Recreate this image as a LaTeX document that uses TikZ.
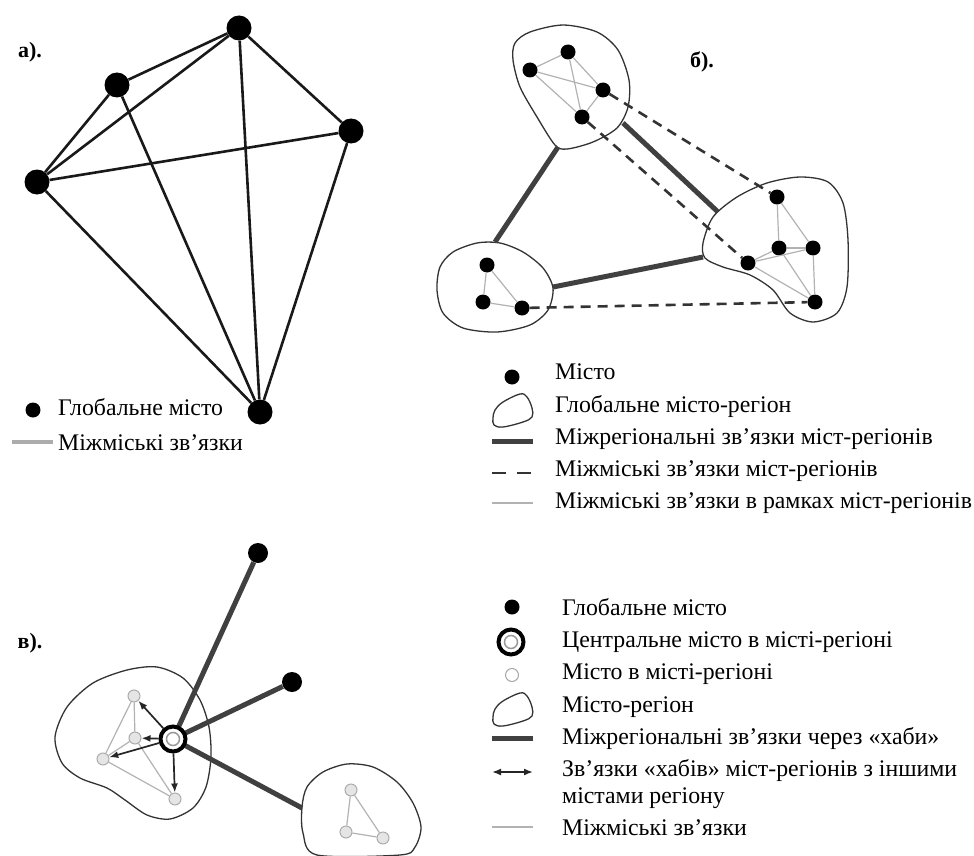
\documentclass[tikz,border=0pt]{standalone}
\usepackage{fontspec}
\setmainfont{Liberation Serif}
\usetikzlibrary{arrows.meta}
\usetikzlibrary{positioning}

\tikzset{
  bigcity/.style  = {circle, fill=black, inner sep=0pt, minimum size=25pt},
  city/.style     = {circle, fill=black, inner sep=0pt, minimum size=15pt},
  gcity/.style    = {circle, fill=black, inner sep=0pt, minimum size=20pt},
  rcity/.style    = {circle, fill=gray!20, draw=gray!65, line width=1pt, inner sep=0pt, minimum size=12pt},
  hub/.style      = {circle, draw=black, line width=4pt, fill=white, inner sep=0pt, minimum size=25pt,
                     path picture={\draw[gray!80, line width=1.5pt] (path picture bounding box.center) circle (6.5pt);}},
  link/.style     = {black!90, line width=2.6pt},
  inter/.style    = {black!75, line width=5pt},
  intra/.style    = {gray!60, line width=1.2pt},
  citylink/.style = {black!80, line width=2.6pt, dash pattern=on 10pt off 7pt},
  region/.style   = {black!80, line width=1.3pt},
  hubarrow/.style = {black!85, line width=1.7pt, -{Latex[length=9pt,width=7pt]}},
  legtext/.style  = {anchor=base west, inner sep=0pt, font=\fontsize{23.8}{26}\selectfont},
  panel/.style    = {anchor=center, inner sep=0pt, font=\fontsize{22}{26}\selectfont\bfseries},
}

\begin{document}
\begin{tikzpicture}[x=1pt,y=-1pt]
  \useasboundingbox (0,0) rectangle (974,856);

  % Panel a
  \node[panel] (la) at (30,52) {а).};
  \node[bigcity] (aT) at (239,28)  {};
  \node[bigcity] (aU) at (117,85)  {};
  \node[bigcity] (aR) at (351,131) {};
  \node[bigcity] (aL) at (37,182)  {};
  \node[bigcity] (aB) at (260,412) {};
  \draw[link] (aT) -- (aU);
  \draw[link] (aT) -- (aL);
  \draw[link] (aT) -- (aR);
  \draw[link] (aT) -- (aB);
  \draw[link] (aU) -- (aL);
  \draw[link] (aU) -- (aB);
  \draw[link] (aL) -- (aR);
  \draw[link] (aL) -- (aB);
  \draw[link] (aR) -- (aB);

  % Legend a
  \node[city] (laDot) at (33,410) {};
  \node[legtext] (laT1) at (58,415) {Глобальне місто};
  \coordinate (laL1) at (12,442);
  \coordinate (laL2) at (53,442);
  \draw[gray!65, line width=4pt] (laL1) -- (laL2);
  \node[legtext] (laT2) at (58,450) {Міжміські зв’язки};

  % Panel b: regions
  \node[panel] (lb) at (702,62) {б).};
  \draw[region] plot[smooth cycle] coordinates {(515,43) (530,32) (563,25) (597,32) (618,50) (629,80)
    (628,107) (617,128) (593,142) (567,149) (555,145) (537,117) (520,87) (513,60)};
  \draw[region] plot[smooth cycle] coordinates {(440,267) (453,252) (477,243) (500,243) (523,252)
    (543,268) (553,288) (548,310) (530,325) (497,332) (463,328) (443,313) (437,290)};
  \draw[region] plot[smooth cycle] coordinates {(703,243) (713,217) (737,197) (767,183) (800,177)
    (828,182) (843,203) (848,240) (847,287) (837,313) (813,322) (790,313) (773,290) (750,275)
    (723,267) (705,258)};

  % Panel b: cities
  \node[city] (bA) at (568,52)  {};
  \node[city] (bB) at (530,70)  {};
  \node[city] (bC) at (603,90)  {};
  \node[city] (bD) at (582,117) {};
  \node[city] (bE) at (487,265) {};
  \node[city] (bF) at (483,302) {};
  \node[city] (bG) at (522,308) {};
  \node[city] (bH) at (777,197) {};
  \node[city] (bI) at (779,248) {};
  \node[city] (bJ) at (813,248) {};
  \node[city] (bK) at (748,263) {};
  \node[city] (bL) at (815,302) {};

  % Panel b: links
  \foreach \u/\v in {bB/bA, bA/bC, bB/bC, bB/bD, bA/bD, bC/bD, bE/bF, bF/bG, bE/bG,
                     bH/bI, bH/bJ, bI/bJ, bK/bI, bK/bJ, bK/bL, bI/bL, bJ/bL}
    \draw[intra] (\u) -- (\v);
  \coordinate (bTop1) at (558,147);
  \coordinate (bLft1) at (495,242);
  \coordinate (bLft2) at (553,287);
  \coordinate (bRgt1) at (703,257);
  \coordinate (bTop2) at (623,123);
  \coordinate (bRgt2) at (718,212);
  \draw[inter] (bTop1) -- (bLft1);
  \draw[inter] (bLft2) -- (bRgt1);
  \draw[inter] (bTop2) -- (bRgt2);
  \draw[citylink] (bC) -- (bH);
  \draw[citylink] (bD) -- (bK);
  \draw[citylink] (bG) -- (bL);

  % Legend b
  \node[city] (lbDot) at (512,377) {};
  \node[legtext] (lbT1) at (555,379) {Місто};
  \draw[region, shift={(512,410)}] plot[smooth cycle, tension=0.6] coordinates {(-19,8) (-17,0) (-9,-8)
    (8,-16) (15,-13) (20,-2) (20,7) (11,12) (-9,17) (-18,15)};
  \node[legtext] (lbT2) at (555,412) {Глобальне місто-регіон};
  \coordinate (lbA1) at (492,441);
  \coordinate (lbA2) at (533,441);
  \draw[inter] (lbA1) -- (lbA2);
  \node[legtext] (lbT3) at (555,444) {Міжрегіональні зв’язки міст-регіонів};
  \coordinate (lbB1) at (492,473);
  \coordinate (lbB2) at (533,473);
  \draw[citylink, dash pattern=on 14pt off 11pt] (lbB1) -- (lbB2);
  \node[legtext] (lbT4) at (555,476) {Міжміські зв’язки міст-регіонів};
  \coordinate (lbC1) at (492,503);
  \coordinate (lbC2) at (533,503);
  \draw[intra] (lbC1) -- (lbC2);
  \node[legtext] (lbT5) at (555,508) {Міжміські зв’язки в рамках міст-регіонів};

  % Panel c: regions
  \node[panel] (lc) at (30,643) {в).};
  \draw[region] plot[smooth cycle] coordinates {(55,737) (67,707) (93,683) (127,670) (157,667)
    (183,678) (200,700) (209,727) (211,757) (206,787) (193,808) (170,819) (147,815) (125,800)
    (107,788) (80,778) (62,763)};
  \draw[region] plot[smooth cycle] coordinates {(302,807) (307,787) (323,772) (347,764) (373,767)
    (397,782) (413,803) (421,827) (415,847) (400,855) (317,855) (303,833)};

  % Panel c: cities
  \node[gcity] (cG1) at (258,553) {};
  \node[gcity] (cG2) at (292,682) {};
  \node[rcity] (r1) at (134,696) {};
  \node[rcity] (r2) at (135,738) {};
  \node[rcity] (r3) at (103,759) {};
  \node[rcity] (r4) at (175,799) {};
  \node[rcity] (s1) at (351,790) {};
  \node[rcity] (s2) at (346,832) {};
  \node[rcity] (s3) at (383,838) {};
  \foreach \u/\v in {r1/r2, r1/r3, r2/r3, r2/r4, r3/r4, s1/s2, s2/s3, s1/s3}
    \draw[intra] (\u) -- (\v);
  \coordinate (cRgt) at (302,808);
  \draw[inter] (cG1) -- (173,739);
  \draw[inter] (cG2) -- (173,739);
  \draw[inter] (cRgt) -- (173,739);
  \node[hub] (hub) at (173,739) {};
  \foreach \v in {r1, r2, r3, r4}
    \draw[hubarrow] (hub) -- (\v);

  % Legend c
  \node[city] (lcDot) at (512,607) {};
  \node[legtext] (lcT1) at (562,615) {Глобальне місто};
  \node[hub] (lcHub) at (511,642) {};
  \node[legtext] (lcT2) at (562,647) {Центральне місто в місті-регіоні};
  \node[circle, draw=gray!70, line width=1pt, fill=white, minimum size=13pt, inner sep=0pt] (lcCity) at (512,675) {};
  \node[legtext] (lcT3) at (562,679) {Місто в місті-регіоні};
  \draw[region, shift={(512,709)}] plot[smooth cycle, tension=0.6] coordinates {(-19,8) (-17,0) (-9,-8)
    (8,-16) (15,-13) (20,-2) (20,7) (11,12) (-9,17) (-18,15)};
  \node[legtext] (lcT4) at (562,712) {Місто-регіон};
  \coordinate (lcA1) at (492,738);
  \coordinate (lcA2) at (533,738);
  \draw[inter] (lcA1) -- (lcA2);
  \node[legtext] (lcT5) at (562,744) {Міжрегіональні зв’язки через «хаби»};
  \coordinate (lcB1) at (492,772);
  \coordinate (lcB2) at (533,772);
  \draw[hubarrow, {Latex[length=9pt,width=7pt]}-{Latex[length=9pt,width=7pt]}] (lcB1) -- (lcB2);
  \node[legtext] (lcT6) at (562,776) {Зв’язки «хабів» міст-регіонів з іншими};
  \node[legtext] (lcT7) at (562,803) {містами регіону};
  \coordinate (lcC1) at (492,827);
  \coordinate (lcC2) at (533,827);
  \draw[intra] (lcC1) -- (lcC2);
  \node[legtext] (lcT8) at (562,835) {Міжміські зв’язки};
\end{tikzpicture}
\end{document}
